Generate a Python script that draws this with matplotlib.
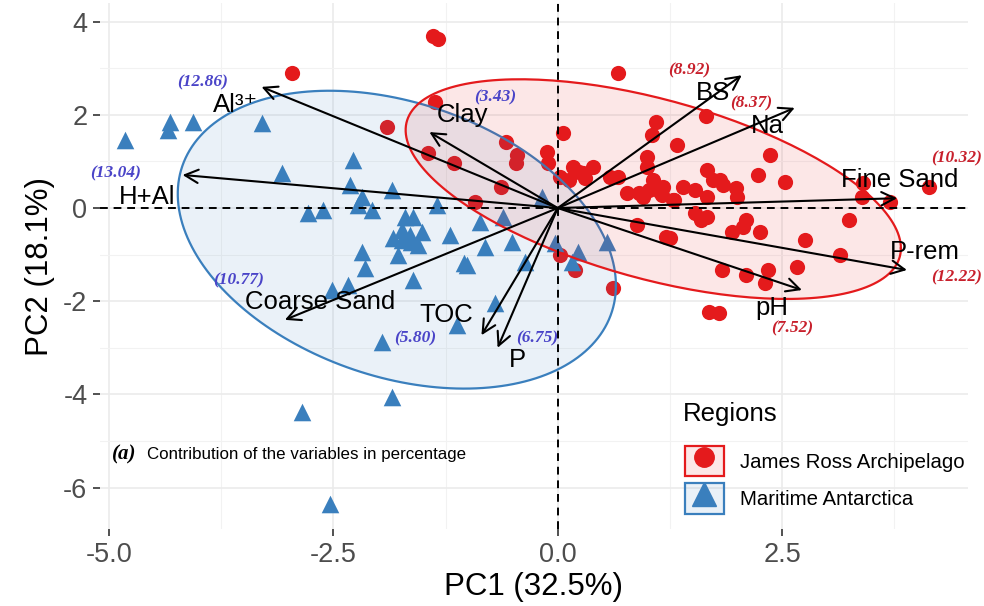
import numpy as np
import matplotlib
matplotlib.use('Agg')
import matplotlib.pyplot as plt
from matplotlib.patches import Patch
from matplotlib.lines import Line2D
from matplotlib.legend_handler import HandlerTuple

# James Ross Archipelago scores (PC1, PC2)
jra_pc1 = [-2.96, -1.39, -1.33, -1.37, -1.90, -1.45, -1.16, -0.58, -0.45, -0.46,
           -0.12, -0.11, 0.06, -0.63, -0.92, 0.02, 0.17, 0.24, 0.39, 0.30,
           0.58, 0.67, 0.77, 0.88, 1.21, 1.10, 1.05, 1.33, 0.99, 0.99,
           1.06, 1.17, 0.91, 1.28, 0.67, 1.10, 1.14, 0.95, 0.13, 0.28,
           1.66, 1.73, 1.84, 1.99, 2.00, 1.39, 1.53, 1.66, 1.30, 1.53,
           1.66, 1.60, 2.10, 2.06, 1.94, 2.25, 1.25, 2.23, 2.53, 2.36,
           1.65, 2.75, 2.66, 2.34, 1.83, 2.10, 2.31, 3.14, 3.25, 3.39,
           3.40, 3.70, 4.14, 0.02, 0.19, 0.61, 1.69, 1.80, 1.08, 1.16,
           1.02, 1.81]
jra_pc2 = [2.90, 3.69, 3.63, 2.27, 1.74, 1.18, 0.97, 1.42, 1.14, 0.97,
           1.20, 0.97, 1.61, 0.45, 0.13, 0.67, 0.88, 0.77, 0.88, 0.64,
           0.67, 0.67, 0.32, -0.36, -0.62, 1.85, 1.57, 1.35, 1.09, 0.88,
           0.60, 0.45, 0.32, 0.17, 2.90, 0.45, 0.34, 0.24, 0.60, 0.75,
           0.82, 0.60, 0.49, 0.43, 0.24, 0.45, 0.39, 0.24, 0.17, -0.11,
           -0.19, -0.26, -0.26, -0.41, -0.52, -0.52, -0.64, 0.71, 0.56, 1.14,
           1.97, -0.69, -1.27, -1.33, -1.33, -1.44, -1.61, -1.01, -0.26, 0.24,
           0.54, 0.13, 0.45, -1.01, -1.33, -1.72, -2.23, -2.25, 0.49, 0.28,
           0.39, 0.60]

# Maritime Antarctica scores (PC1, PC2)
ma_pc1 = [-4.82, -4.32, -4.34, -4.06, -3.30, -3.07, -2.28, -2.32, -2.18, -2.78,
          -2.62, -2.18, -2.23, -2.07, -1.85, -1.35, -1.70, -1.74, -1.84, -1.73,
          -1.63, -1.51, -2.15, -1.78, -1.20, -0.87, -0.61, -0.51, -0.81, -1.04,
          -0.37, -0.17, -0.03, -1.61, -2.51, -2.34, -1.96, -1.12, -0.70, -1.01,
          -1.85, -2.85, -2.54, 0.22, 0.16, 0.55, -1.61, -1.65, -1.56]
ma_pc2 = [1.46, 1.85, 1.67, 1.85, 1.82, 0.75, 1.03, 0.49, 0.24, -0.11,
          -0.04, -0.94, 0.06, -0.04, 0.39, 0.06, -0.19, -0.47, -0.64, -0.69,
          -0.73, -0.52, -1.29, -1.01, -0.58, -0.30, -0.19, -0.73, -0.84, -1.18,
          -1.16, 0.24, -0.75, -1.55, -1.76, -1.65, -2.88, -2.51, -2.04, -1.22,
          -4.06, -4.38, -6.35, -0.94, -1.16, -0.73, -0.19, -0.58, -0.79]

# variable loadings (arrow tips), label positions and contributions
variables = ['Al³⁺', 'H+Al', 'Clay', 'BS', 'Na', 'Fine Sand',
             'P-rem', 'pH', 'Coarse Sand', 'TOC', 'P']
load_pc1 = [-3.30, -4.18, -1.43, 2.05, 2.64, 3.78, 3.89, 2.72, -3.04, -0.85, -0.67]
load_pc2 = [2.60, 0.71, 1.63, 2.85, 2.15, 0.21, -1.33, -1.76, -2.40, -2.73, -3.00]
lab_pc1 = [-3.59, -4.57, -1.06, 1.73, 2.33, 3.81, 4.09, 2.38, -2.65, -1.24, -0.45]
lab_pc2 = [2.21, 0.24, 2.00, 2.47, 1.76, 0.60, -0.94, -2.15, -2.02, -2.30, -3.26]
contrib = ['12.86', '13.04', '3.43', '8.92', '8.37', '10.32', '12.22', '7.52',
           '10.77', '5.80', '6.75']
contrib_pc1 = [-3.96, -4.93, -0.70, 1.47, 2.16, 4.44, 4.44, 2.61, -3.56, -1.59, -0.23]
contrib_pc2 = [2.70, 0.75, 2.38, 2.96, 2.25, 1.07, -1.48, -2.58, -1.55, -2.79, -2.79]
contrib_side = ['MA', 'MA', 'MA', 'JRA', 'JRA', 'JRA', 'JRA', 'JRA', 'MA', 'MA', 'MA']

red = '#e41a1c'
blue = '#3a7fbd'
red_txt = '#c8202c'
blue_txt = '#4a44c8'


def ellipse_xy(x, y, scale=2.08, n=200):
    # normal confidence ellipse of the scores
    pts = np.column_stack([x, y])
    mu = pts.mean(axis=0)
    cov = np.cov(pts, rowvar=False)
    chol = np.linalg.cholesky(cov).T
    t = np.linspace(0, 2 * np.pi, n)
    circle = np.column_stack([np.cos(t), np.sin(t)])
    xy = mu + scale * circle @ chol
    return xy[:, 0], xy[:, 1]


plt.rcParams['font.family'] = ['Liberation Sans', 'DejaVu Sans']
plt.rcParams['axes.unicode_minus'] = False
fig = plt.figure(figsize=(9.84, 6.06), dpi=100)
ax = fig.add_axes([0.1016, 0.127, 0.8821, 0.868])

ax.scatter(jra_pc1, jra_pc2, s=120, color=red, marker='o', linewidths=0, zorder=3)
ax.scatter(ma_pc1, ma_pc2, s=160, color=blue, marker='^', linewidths=0, zorder=3)

for px, py, c in [(ma_pc1, ma_pc2, blue), (jra_pc1, jra_pc2, red)]:
    ex, ey = ellipse_xy(px, py)
    ax.fill(ex, ey, color=c, alpha=0.1, lw=0, zorder=4)
    ax.plot(ex, ey, color=c, lw=1.6, zorder=4)

ax.axhline(0, color='black', ls=(0, (4, 3)), lw=1.4, zorder=5)
ax.axvline(0, color='black', ls=(0, (4, 3)), lw=1.4, zorder=5)

for i, v in enumerate(variables):
    ax.annotate('', xy=(load_pc1[i], load_pc2[i]), xytext=(0, 0),
                arrowprops=dict(arrowstyle='->', lw=1.5, color='black',
                                shrinkA=0, shrinkB=0, mutation_scale=24),
                zorder=6)
    ax.text(lab_pc1[i], lab_pc2[i], v, fontsize=18.5, ha='center', va='center',
            color='black', zorder=7)
    ax.text(contrib_pc1[i], contrib_pc2[i], '(' + contrib[i] + ')',
            fontsize=12.5, ha='center', va='center',
            color=red_txt if contrib_side[i] == 'JRA' else blue_txt,
            family='Liberation Serif', weight='bold', style='italic', zorder=7)

ax.text(-4.97, -5.30, '(a)', fontsize=15, family='Liberation Serif',
        weight='bold', style='italic', va='center', ha='left')
ax.text(-4.58, -5.30, 'Contribution of the variables in percentage', fontsize=12.2,
        va='center', ha='left')

ax.set_xlim(-5.10, 4.57)
ax.set_ylim(-6.89, 4.40)
ax.set_xticks([-5.0, -2.5, 0.0, 2.5])
ax.set_xticklabels(['-5.0', '-2.5', '0.0', '2.5'])
ax.set_yticks([-6, -4, -2, 0, 2, 4])
ax.set_xticks([-3.75, -1.25, 1.25, 3.75], minor=True)
ax.set_yticks([-5, -3, -1, 1, 3], minor=True)
ax.grid(which='major', color='#ebebeb', lw=1.2)
ax.grid(which='minor', color='#f2f2f2', lw=0.8)
ax.set_axisbelow(True)
for s in ax.spines.values():
    s.set_visible(False)
ax.tick_params(which='major', length=5, width=1.2, color='#333333',
               labelsize=19.5, labelcolor='#4d4d4d', pad=4)
ax.tick_params(which='minor', length=0)
ax.set_xlabel('PC1 (32.5%)', fontsize=22.5, labelpad=3)
ax.set_ylabel('PC2 (18.1%)', fontsize=22.5, labelpad=6)

# legend
ax.text(0.671, 0.219, 'Regions', transform=ax.transAxes, fontsize=18.5,
        ha='left', va='center')
handles = [
    (Patch(facecolor=(0.894, 0.102, 0.110, 0.1), edgecolor=red, lw=1.6),
     Line2D([], [], marker='o', ls='none', color=red, markersize=14)),
    (Patch(facecolor=(0.227, 0.498, 0.741, 0.1), edgecolor=blue, lw=1.6),
     Line2D([], [], marker='^', ls='none', color=blue, markersize=17)),
]
leg = ax.legend(handles, ['James Ross Archipelago', 'Maritime Antarctica'],
                handler_map={tuple: HandlerTuple(ndivide=1, pad=0)},
                loc='upper left', bbox_to_anchor=(0.674, 0.158), frameon=False,
                fontsize=14.7, handlelength=1.9, handleheight=1.9,
                handletextpad=0.8, labelspacing=0.35, borderaxespad=0,
                borderpad=0)

fig.savefig('out.png', dpi=100)
